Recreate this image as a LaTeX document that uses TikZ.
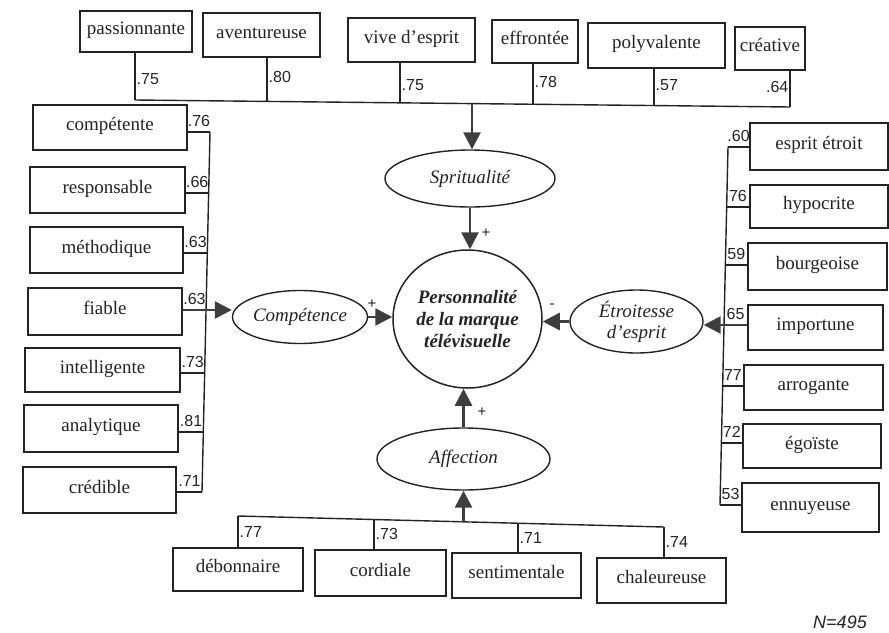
\documentclass[tikz,border=0pt]{standalone}
\usepackage{fontspec}
\setmainfont{Liberation Serif}
\newfontfamily\numfont{Liberation Sans}
\usetikzlibrary{shapes.geometric,arrows.meta,calc}
\definecolor{ink}{RGB}{35,35,35}
\definecolor{arr}{RGB}{62,62,62}
\begin{document}
\begin{tikzpicture}[x=1pt,y=-1pt,
  item/.style={draw=ink, line width=1.7pt, rectangle, inner sep=0pt, text height=12pt, text depth=6pt, font=\fontsize{19}{21}\selectfont, text=ink},
  latent/.style={draw=ink, line width=1.4pt, ellipse, inner sep=0pt, font=\fontsize{19}{21}\selectfont\itshape, text=ink, align=center},
  bus/.style={draw=ink, line width=1.4pt},
  loadlbl/.style={font=\numfont\fontsize{16}{16}\selectfont, text=ink, inner sep=1pt},
  pathar/.style={draw=arr, line width=2.6pt, -{Triangle[length=17pt,width=17pt]}},
  sign/.style={font=\numfont\fontsize{15}{15}\selectfont, text=ink, inner sep=0pt}
]
\useasboundingbox (0,0) rectangle (889,632);

% ---------- central construct ----------
\node[draw=ink, line width=1.5pt, ellipse, inner sep=0pt, minimum width=149pt, minimum height=138pt,
      font=\fontsize{19}{22}\selectfont\bfseries\itshape, text=ink, align=center] (P) at (467.5,319)
      {Personnalité\\de la marque\\télévisuelle};

% ---------- latent variables ----------
\node[latent, minimum width=170pt, minimum height=57pt] (Sprit) at (470,178.5) {Spritualité};
\node[latent, minimum width=135pt, minimum height=53pt] (Comp) at (300,317) {Compétence};
\node[latent, minimum width=133pt, minimum height=63pt] (Etroit) at (636.5,321.5) {Étroitesse\\d'esprit};
\node[latent, minimum width=173pt, minimum height=62pt] (Aff) at (463.5,459) {Affection};

% ---------- top items ----------
\node[item, minimum width=112pt, minimum height=41pt] (passionnante) at (136,31.5) {passionnante};
\node[item, minimum width=117pt, minimum height=44pt] (aventureuse) at (261.5,35) {aventureuse};
\node[item, minimum width=127pt, minimum height=44pt] (vive) at (411.5,40) {vive d'esprit};
\node[item, minimum width=86pt, minimum height=43pt] (effrontee) at (535,41.5) {effrontée};
\node[item, minimum width=137pt, minimum height=45pt] (polyvalente) at (656.5,45.5) {polyvalente};
\node[item, minimum width=70pt, minimum height=43pt] (creative) at (770,48.5) {créative};

% ---------- left items ----------
\node[item, minimum width=154pt, minimum height=45pt] (competente) at (110,127.5) {compétente};
\node[item, minimum width=155pt, minimum height=46pt] (responsable) at (107.5,190) {responsable};
\node[item, minimum width=153pt, minimum height=46pt] (methodique) at (106.5,250) {méthodique};
\node[item, minimum width=154pt, minimum height=47pt] (fiable) at (105,311.5) {fiable};
\node[item, minimum width=155pt, minimum height=44pt] (intelligente) at (102.5,370) {intelligente};
\node[item, minimum width=154pt, minimum height=47pt] (analytique) at (101,428.5) {analytique};
\node[item, minimum width=153pt, minimum height=46pt] (credible) at (99.5,490) {crédible};

% ---------- right items ----------
\node[item, minimum width=138pt, minimum height=47pt] (espritetroit) at (819,146.5) {esprit étroit};
\node[item, minimum width=138pt, minimum height=43pt] (hypocrite) at (819,206.5) {hypocrite};
\node[item, minimum width=139pt, minimum height=47pt] (bourgeoise) at (817.5,266.5) {bourgeoise};
\node[item, minimum width=135pt, minimum height=45pt] (importune) at (815.5,327.5) {importune};
\node[item, minimum width=139pt, minimum height=45pt] (arrogante) at (813.5,387.5) {arrogante};
\node[item, minimum width=138pt, minimum height=44pt] (egoiste) at (812,446) {égoïste};
\node[item, minimum width=137pt, minimum height=49pt] (ennuyeuse) at (810.5,507.5) {ennuyeuse};

% ---------- bottom items ----------
\node[item, minimum width=130pt, minimum height=43pt] (debonnaire) at (238,569.5) {débonnaire};
\node[item, minimum width=131pt, minimum height=46pt] (cordiale) at (380.5,573) {cordiale};
\node[item, minimum width=129pt, minimum height=45pt] (sentimentale) at (516.5,575.5) {sentimentale};
\node[item, minimum width=129pt, minimum height=45pt] (chaleureuse) at (661.5,580.5) {chaleureuse};

% ---------- top bus ----------
\coordinate (t1) at (135,100);
\coordinate (t2) at (267,101.4);
\coordinate (t3) at (400,102.8);
\coordinate (tS) at (472,103.6);
\coordinate (t4) at (533,104.3);
\coordinate (t5) at (654,105.5);
\coordinate (t6) at (790,107);
\draw[bus] (t1) -- (t6);
\draw[bus] (t1 |- passionnante.south) -- (t1) node[pos=0.55, right, loadlbl] {.75};
\draw[bus] (t2 |- aventureuse.south) -- (t2) node[pos=0.45, right, loadlbl] {.80};
\draw[bus] (t3 |- vive.south) -- (t3) node[pos=0.55, right, loadlbl] {.75};
\draw[bus] (t4 |- effrontee.south) -- (t4) node[pos=0.45, right, loadlbl] {.78};
\draw[bus] (t5 |- polyvalente.south) -- (t5) node[pos=0.45, right, loadlbl] {.57};
\draw[bus] (t6 |- creative.south) -- (t6) node[pos=0.45, left, loadlbl] {.64};
\draw[pathar] (tS) -- (tS |- Sprit.north);
\draw[pathar] (Sprit.south) -- (Sprit.south |- P.north);
\node[sign] (plusS) at (486,233) {+};

% ---------- left bus ----------
\coordinate (l1) at (210,132);
\coordinate (l2) at (208.6,193);
\coordinate (l3) at (207.3,253);
\coordinate (l4) at (206,310);
\coordinate (l5) at (204.6,373);
\coordinate (l6) at (203.3,432);
\coordinate (l7) at (202,492);
\draw[bus] (l1) -- (l7);
\draw[bus] (competente.east |- l1) -- (l1) node[midway, above=4pt, loadlbl] {.76};
\draw[bus] (responsable.east |- l2) -- (l2) node[midway, above=4pt, loadlbl] {.66};
\draw[bus] (methodique.east |- l3) -- (l3) node[midway, above=4pt, loadlbl] {.63};
\node[loadlbl, anchor=south] (lab4) at ($(fiable.east |- l4)!0.5!(l4) + (0,-4)$) {.63};
\draw[bus] (intelligente.east |- l5) -- (l5) node[midway, above=4pt, loadlbl] {.73};
\draw[bus] (analytique.east |- l6) -- (l6) node[midway, above=4pt, loadlbl] {.81};
\draw[bus] (credible.east |- l7) -- (l7) node[midway, above=4pt, loadlbl] {.71};
\draw[pathar] (fiable.east |- l4) -- (Comp.west |- l4);
\draw[pathar] (Comp.east) -- (Comp.east -| P.west);
\node[sign] (plusC) at (372,304) {+};

% ---------- right bus ----------
\coordinate (r1) at (728,147);
\coordinate (r2) at (726.7,207);
\coordinate (r3) at (725.4,265);
\coordinate (r4) at (724,325);
\coordinate (r5) at (722.7,386);
\coordinate (r6) at (721.4,443);
\coordinate (r7) at (720,505);
\draw[bus] (r1) -- (r7);
\draw[bus] (espritetroit.west |- r1) -- (r1) node[midway, above=4pt, loadlbl] {.60};
\draw[bus] (hypocrite.west |- r2) -- (r2) node[midway, above=4pt, loadlbl] {76};
\draw[bus] (bourgeoise.west |- r3) -- (r3) node[midway, above=4pt, loadlbl] {59};
\node[loadlbl, anchor=south] (lab11) at ($(importune.west |- r4)!0.5!(r4) + (0,-4)$) {65};
\draw[bus] (arrogante.west |- r5) -- (r5) node[midway, above=4pt, loadlbl] {77};
\draw[bus] (egoiste.west |- r6) -- (r6) node[midway, above=4pt, loadlbl] {72};
\draw[bus] (ennuyeuse.west |- r7) -- (r7) node[midway, above=4pt, loadlbl] {53};
\draw[pathar] (importune.west |- r4) -- (Etroit.east |- r4);
\draw[pathar] (Etroit.west) -- (Etroit.west -| P.east);
\node[sign] (minusE) at (552,306) {-};

% ---------- bottom bus ----------
\coordinate (b1) at (238,516);
\coordinate (b2) at (374,519.5);
\coordinate (bA) at (463.5,521.8);
\coordinate (b3) at (518,523.2);
\coordinate (b4) at (664,527);
\draw[bus] (b1) -- (b4);
\draw[bus] (b1) -- (b1 |- debonnaire.north) node[midway, right, loadlbl] {.77};
\draw[bus] (b2) -- (b2 |- cordiale.north) node[midway, right, loadlbl] {.73};
\draw[bus] (b3) -- (b3 |- sentimentale.north) node[midway, right, loadlbl] {.71};
\draw[bus] (b4) -- (b4 |- chaleureuse.north) node[midway, right, loadlbl] {.74};
\draw[pathar] (bA) -- (Aff.south);
\draw[pathar] (Aff.north) -- (Aff.north |- P.south);
\node[sign] (plusA) at (482,412) {+};

% ---------- sample size ----------
\node[font=\numfont\itshape\fontsize{18}{18}\selectfont, text=ink, inner sep=0pt] (N) at (840,622) {N=495};
\end{tikzpicture}
\end{document}
